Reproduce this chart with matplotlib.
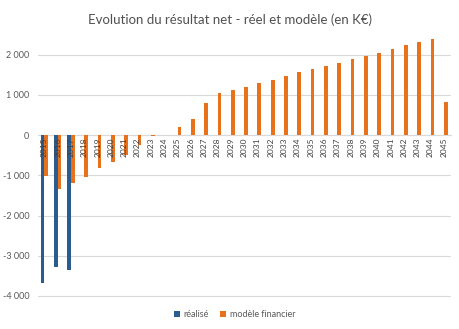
import numpy as np
import matplotlib.pyplot as plt
from matplotlib.ticker import FuncFormatter

plt.rcParams['font.family'] = ['Lato', 'DejaVu Sans']

years = list(range(2015, 2046))
realise = [-3670, -3290, -3360] + [0] * 28
modele = [-1020, -1340, -1190, -1040, -830, -675, -490, -240, -20, 0,
          210, 410, 785, 1050, 1115, 1200, 1290, 1380, 1470, 1560,
          1630, 1705, 1795, 1880, 1965, 2045, 2140, 2235, 2325, 2400, 820]

blue = "#2A5C8F"
orange = "#E8721C"
grey_text = "#595959"

fig = plt.figure(figsize=(4.6, 3.29), dpi=100)
ax = fig.add_axes([0.082, 0.0942, 0.8976, 0.801])

x = np.arange(len(years))
w = 0.28
ax.bar(x - w / 2, realise, w, color=blue, label="réalisé", zorder=3)
ax.bar(x + w / 2, modele, w, color=orange, label="modèle financier", zorder=3)

# category axis sits on the zero line, like Excel
ax.spines["bottom"].set_position(("data", 0))
ax.spines["bottom"].set_color("#D9D9D9")
for s in ["top", "right", "left"]:
    ax.spines[s].set_visible(False)

ax.set_xlim(-0.5, len(years) - 0.5)
ax.set_ylim(-4050, 2500)
ax.set_yticks([-4000, -3000, -2000, -1000, 0, 1000, 2000])
ax.yaxis.set_major_formatter(FuncFormatter(lambda v, p: f"{int(v):,}".replace(",", " ")))
ax.grid(axis="y", color="#D9D9D9", linewidth=0.8, zorder=0)
ax.set_axisbelow(False)

ax.set_xticks(x)
ax.set_xticklabels([str(y) for y in years], rotation=90, fontsize=6,
                   color="#404040", va="top", ha="center")
ax.tick_params(axis="both", length=0)
ax.tick_params(axis="x", pad=2)
ax.tick_params(axis="y", labelsize=6.5, labelcolor=grey_text, pad=6)
ax.xaxis.set_zorder(5)
ax.yaxis.set_zorder(0)
ax.spines["bottom"].set_zorder(1)

fig.suptitle("Evolution du résultat net - réel et modèle (en K€)", y=0.958,
             fontsize=9.5, color="#505050")
fig.legend(loc="center", bbox_to_anchor=(0.51, 0.043), ncol=2, frameon=False,
           fontsize=6.5, handlelength=0.7, handleheight=0.7, handletextpad=0.4,
           columnspacing=1.2, labelcolor=grey_text)

fig.savefig("out.png", dpi=100)
